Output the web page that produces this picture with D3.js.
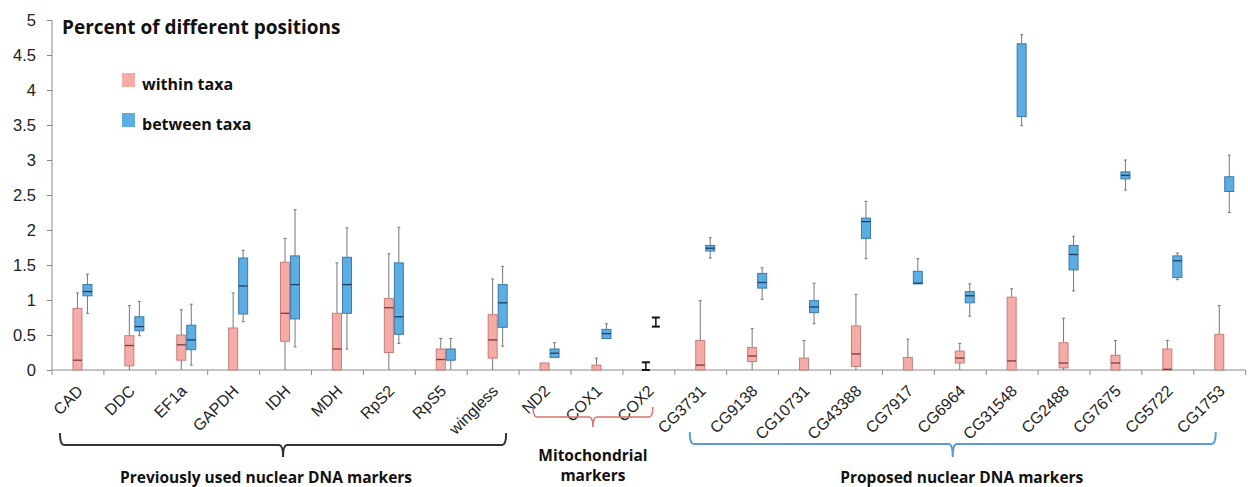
<!DOCTYPE html>
<html>
<head>
<meta charset="utf-8">
<script src="https://cdn.jsdelivr.net/npm/d3@7"></script>
<style>
  body { margin: 0; background: #fff; }
  svg { display: block; }
</style>
</head>
<body>
<div id="chart"></div>
<script>
(function(){

  // marker names, left to right
  var categories = ['CAD','DDC','EF1a','GAPDH','IDH','MDH','RpS2','RpS5','wingless',
    'ND2','COX1','COX2',
    'CG3731','CG9138','CG10731','CG43388','CG7917','CG6964','CG31548','CG2488','CG7675','CG5722','CG1753'];

  // [whisker low, q1, median, q3, whisker high]
  var withinTaxa = [
    [0, 0, 0.14, 0.88, 1.1],
    [0, 0.06, 0.35, 0.49, 0.92],
    [0, 0.14, 0.36, 0.5, 0.86],
    [0, 0, 0, 0.6, 1.1],
    [0, 0.41, 0.81, 1.54, 1.88],
    [0, 0, 0.3, 0.81, 1.53],
    [0, 0.25, 0.89, 1.02, 1.66],
    [0, 0, 0.15, 0.3, 0.45],
    [0, 0.17, 0.43, 0.79, 1.3],
    [0, 0, 0, 0.1, 0.1],
    [0, 0, 0, 0.07, 0.17],
    [0, 0, 0, 0, 0.11],
    [0, 0, 0.07, 0.42, 0.99],
    [0, 0.12, 0.2, 0.32, 0.59],
    [0, 0, 0, 0.17, 0.42],
    [0, 0.05, 0.23, 0.63, 1.08],
    [0, 0, 0, 0.18, 0.44],
    [0, 0.1, 0.17, 0.27, 0.38],
    [0, 0, 0.13, 1.04, 1.16],
    [0, 0.03, 0.1, 0.39, 0.74],
    [0, 0, 0.1, 0.21, 0.42],
    [0, 0, 0.01, 0.3, 0.42],
    [0, 0, 0, 0.51, 0.92]
  ];

  var betweenTaxa = [
    [0.81, 1.06, 1.12, 1.22, 1.37],
    [0.49, 0.56, 0.62, 0.76, 0.98],
    [0.07, 0.29, 0.43, 0.64, 0.94],
    [0.69, 0.8, 1.2, 1.6, 1.71],
    [0.33, 0.73, 1.22, 1.63, 2.29],
    [0.3, 0.81, 1.22, 1.61, 2.03],
    [0.38, 0.51, 0.76, 1.53, 2.04],
    [0, 0.14, 0.14, 0.3, 0.45],
    [0.34, 0.61, 0.96, 1.22, 1.48],
    [0.18, 0.18, 0.24, 0.3, 0.39],
    [0.45, 0.45, 0.52, 0.58, 0.66],
    [0.62, 0.75, 0.75, 0.75, 0.75],
    [1.6, 1.7, 1.74, 1.78, 1.89],
    [1.01, 1.17, 1.25, 1.38, 1.46],
    [0.66, 0.82, 0.9, 0.99, 1.24],
    [1.59, 1.88, 2.12, 2.17, 2.41],
    [1.23, 1.23, 1.24, 1.41, 1.59],
    [0.77, 0.96, 1.06, 1.12, 1.23],
    [3.49, 3.62, 4.66, 4.66, 4.79],
    [1.13, 1.43, 1.65, 1.78, 1.91],
    [2.57, 2.73, 2.78, 2.83, 3.0],
    [1.29, 1.32, 1.56, 1.63, 1.67],
    [2.25, 2.55, 2.55, 2.76, 3.07]
  ];

  var yTicks = [0, 0.5, 1, 1.5, 2, 2.5, 3, 3.5, 4, 4.5, 5];

  var groupNames = ['Previously used nuclear DNA markers', 'Mitochondrial|markers', 'Proposed nuclear DNA markers'];
  var groupFirst = ['CAD', 'ND2', 'CG3731'];
  var groupLast = ['wingless', 'COX2', 'CG1753'];

  var seriesNames = ['within taxa', 'between taxa'];

  var width = 1248,
      height = 487;

  var colors = {
    within: {fill: '#f6aca6', stroke: '#c77d79', median: '#7a3d3a'},
    between: {fill: '#5cade2', stroke: '#3c78a8', median: '#1d3f63'}
  };

  var boldFont = '"Open Sans", sans-serif',
      axisFont = '"Liberation Sans", Arial, sans-serif';

  // brace look per group: [left pad, right pad, top y, line y, tip y, colour, width, label shift]
  var braceStyle = [
    [-18, 13, 433, 445, 457, '#333', 2, -17],
    [-12, 4, 407, 417, 427, '#d9726c', 1.5, 0],
    [-11, -4, 432, 444, 457, '#5b9bd5', 2, 9]
  ];

  var svg = d3.select('#chart').append('svg')
    .attr('width', width)
    .attr('height', height);

  var x = d3.scaleBand()
    .domain(categories)
    .range([52, 52 + 51.9 * categories.length])
    .paddingInner(0)
    .paddingOuter(0);

  var y = d3.scaleLinear()
    .domain([0, 5])
    .range([370, 20]);

  var boxWidth = 9,
      seriesOffset = [-0.5, 9.5];

  // y axis
  var yAxis = svg.append('g')
    .attr('transform', 'translate(52,0)')
    .call(d3.axisLeft(y).tickValues(yTicks).tickSize(5).tickPadding(11).tickFormat(function(d){ return String(d); }));
  yAxis.select('.domain').attr('stroke', '#8a8a8a').attr('d', 'M0,' + y(0) + 'V' + y(5));
  yAxis.selectAll('.tick line').attr('stroke', '#8a8a8a');
  yAxis.selectAll('.tick text')
    .attr('fill', '#222')
    .attr('font-family', axisFont)
    .attr('font-size', 16.5);

  // x axis line and ticks at category borders
  var borders = categories.map(function(c){ return x(c); });
  borders.push(x(categories[categories.length - 1]) + x.bandwidth());

  svg.append('line')
    .attr('x1', x.range()[0])
    .attr('x2', x.range()[1])
    .attr('y1', y(0))
    .attr('y2', y(0))
    .attr('stroke', '#8a8a8a')
    .attr('stroke-width', 1);

  svg.append('g')
    .selectAll('line')
    .data(borders)
    .enter().append('line')
    .attr('x1', function(d){ return d; })
    .attr('x2', function(d){ return d; })
    .attr('y1', y(0))
    .attr('y2', y(0) + 5)
    .attr('stroke', '#8a8a8a');

  // category labels
  svg.append('g')
    .selectAll('text')
    .data(categories)
    .enter().append('text')
    .attr('transform', function(d){
      return 'translate(' + (x(d) + x.bandwidth() / 2 + 6) + ',' + (y(0) + 22) + ') rotate(-45)';
    })
    .attr('text-anchor', 'end')
    .attr('font-family', axisFont)
    .attr('font-size', 16)
    .attr('fill', '#222')
    .text(function(d){ return d; });

  // box plots
  var series = [
    {key: 'within', values: withinTaxa},
    {key: 'between', values: betweenTaxa}
  ];

  series.forEach(function(s, si){
    var col = colors[s.key];
    var g = svg.append('g').attr('class', 'series-' + s.key);

    var items = s.values.map(function(v, i){
      return {cat: categories[i], lo: v[0], q1: v[1], med: v[2], q3: v[3], hi: v[4]};
    });

    var cx = function(d){ return x(d.cat) + x.bandwidth() / 2 + seriesOffset[si]; };

    var box = g.selectAll('.box')
      .data(items)
      .enter().append('g')
      .attr('class', 'box');

    // collapsed boxes are drawn as black I-beams in the figure
    var flat = function(d){ return d.q3 - d.q1 < 0.005; };
    var shift = function(d){ return flat(d) ? cx(d) - 2.5 : cx(d); };

    box.append('line')
      .attr('x1', shift).attr('x2', shift)
      .attr('y1', function(d){ return y(d.hi); })
      .attr('y2', function(d){ return y(d.q3); })
      .attr('stroke', function(d){ return flat(d) ? '#111' : '#777'; })
      .attr('stroke-width', function(d){ return flat(d) ? 1.5 : 1; });

    box.append('line')
      .attr('x1', shift).attr('x2', shift)
      .attr('y1', function(d){ return y(d.q1); })
      .attr('y2', function(d){ return y(d.lo); })
      .attr('stroke', function(d){ return flat(d) ? '#111' : '#777'; })
      .attr('stroke-width', function(d){ return flat(d) ? 1.5 : 1; });

    // whisker caps
    ['hi', 'lo'].forEach(function(k){
      box.filter(function(d){ return d[k] > 0 && (k === 'hi' ? d.hi > d.q3 : d.lo < d.q1) || flat(d); })
        .append('line')
        .attr('x1', function(d){ return shift(d) - (flat(d) ? 4 : 1.5); })
        .attr('x2', function(d){ return shift(d) + (flat(d) ? 4 : 1.5); })
        .attr('y1', function(d){ return y(d[k]); })
        .attr('y2', function(d){ return y(d[k]); })
        .attr('stroke', function(d){ return flat(d) ? '#111' : '#777'; })
        .attr('stroke-width', function(d){ return flat(d) ? 2 : 1; });
    });

    box.filter(function(d){ return !flat(d); })
      .append('rect')
      .attr('x', function(d){ return cx(d) - boxWidth / 2; })
      .attr('y', function(d){ return y(d.q3); })
      .attr('width', boxWidth)
      .attr('height', function(d){ return y(d.q1) - y(d.q3); })
      .attr('fill', col.fill)
      .attr('stroke', col.stroke)
      .attr('stroke-width', 1);

    box.filter(function(d){ return !flat(d) && d.med > d.q1 && d.med < d.q3; })
      .append('line')
      .attr('x1', function(d){ return cx(d) - boxWidth / 2; })
      .attr('x2', function(d){ return cx(d) + boxWidth / 2; })
      .attr('y1', function(d){ return y(d.med); })
      .attr('y2', function(d){ return y(d.med); })
      .attr('stroke', col.median)
      .attr('stroke-width', 1.3);
  });

  // title
  svg.append('text')
    .attr('x', 62)
    .attr('y', 34)
    .attr('font-family', boldFont)
    .attr('font-weight', 700)
    .attr('font-size', 19)
    .attr('fill', '#111')
    .text('Percent of different positions');

  // legend
  var legend = svg.append('g')
    .selectAll('g')
    .data(seriesNames)
    .enter().append('g')
    .attr('transform', function(d, i){ return 'translate(122,' + (73 + i * 40) + ')'; });

  legend.append('rect')
    .attr('width', 13)
    .attr('height', 14)
    .attr('fill', function(d, i){ return i === 0 ? colors.within.fill : colors.between.fill; });

  legend.append('text')
    .attr('x', 20)
    .attr('y', 17)
    .attr('font-family', boldFont)
    .attr('font-weight', 700)
    .attr('font-size', 16)
    .attr('fill', '#111')
    .text(function(d){ return d; });

  // braces under the marker groups
  groupNames.forEach(function(name, gi){
    var st = braceStyle[gi];
    var x0 = x(groupFirst[gi]) + x.bandwidth() / 2 + st[0],
        x1 = x(groupLast[gi]) + x.bandwidth() / 2 + st[1],
        mid = (x0 + x1) / 2,
        top = st[2], ly = st[3], tip = st[4], r = 4;

    var p = d3.path();
    p.moveTo(x0, top);
    p.quadraticCurveTo(x0, ly, x0 + r, ly);
    p.lineTo(mid - r, ly);
    p.quadraticCurveTo(mid, ly, mid, tip);
    p.quadraticCurveTo(mid, ly, mid + r, ly);
    p.lineTo(x1 - r, ly);
    p.quadraticCurveTo(x1, ly, x1, top);

    svg.append('path')
      .attr('d', p.toString())
      .attr('fill', 'none')
      .attr('stroke', st[5])
      .attr('stroke-width', st[6]);

    var lines = name.split('|');
    var t = svg.append('text')
      .attr('text-anchor', 'middle')
      .attr('font-family', boldFont)
      .attr('font-weight', 700)
      .attr('font-size', 15.5)
      .attr('fill', '#111');

    lines.forEach(function(l, li){
      t.append('tspan')
        .attr('x', mid + st[7])
        .attr('y', lines.length > 1 ? 461 + li * 20 : 483)
        .text(l);
    });
  });

})();
</script>
</body>
</html>
